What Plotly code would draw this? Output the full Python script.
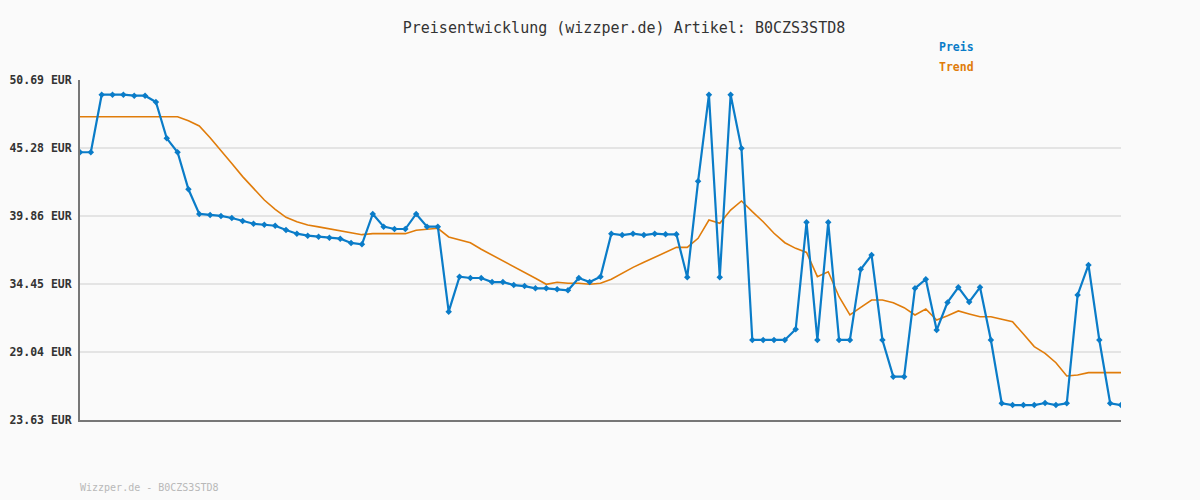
import plotly.graph_objects as go

title_text = "Preisentwicklung (wizzper.de) Artikel: B0CZS3STD8"
footer_text = "Wizzper.de - B0CZS3STD8"

price = [44.94, 44.94, 49.52, 49.52, 49.52, 49.44, 49.44, 48.94, 46.05, 44.94,
         41.99, 40.03, 39.95, 39.87, 39.71, 39.47, 39.25, 39.17, 39.09, 38.75,
         38.46, 38.30, 38.22, 38.14, 38.06, 37.72, 37.61, 40.03, 39.02, 38.83,
         38.83, 40.03, 39.02, 39.02, 32.25, 35.04, 34.93, 34.93, 34.61, 34.61,
         34.37, 34.29, 34.11, 34.11, 34.03, 33.95, 34.93, 34.61, 35.04, 38.46,
         38.35, 38.46, 38.35, 38.46, 38.41, 38.41, 34.99, 42.63, 49.52, 34.99,
         49.52, 45.25, 30.00, 30.00, 30.00, 30.00, 30.85, 39.36, 30.00, 39.36,
         30.00, 30.00, 35.62, 36.76, 30.00, 27.08, 27.08, 34.11, 34.83, 30.79,
         32.99, 34.19, 33.02, 34.19, 30.00, 24.96, 24.82, 24.82, 24.82, 24.98,
         24.82, 24.96, 33.58, 35.97, 30.00, 24.96, 24.82]

trend = [47.77, 47.77, 47.77, 47.77, 47.77, 47.77, 47.77, 47.77, 47.77, 47.77,
         47.45, 47.03, 46.10, 45.12, 44.05, 43.00, 42.05, 41.14, 40.40, 39.76,
         39.40, 39.15, 39.00, 38.84, 38.69, 38.53, 38.38, 38.46, 38.46, 38.46,
         38.46, 38.73, 38.82, 38.89, 38.20, 37.96, 37.74, 37.22, 36.76, 36.31,
         35.89, 35.38, 34.91, 34.43, 34.59, 34.51, 34.51, 34.43, 34.51, 34.83,
         35.31, 35.78, 36.18, 36.58, 37.02, 37.37, 37.37, 38.09, 39.55, 39.29,
         40.34, 41.06, 40.21, 39.41, 38.49, 37.74, 37.29, 36.97, 35.04, 35.43,
         33.44, 31.99, 32.60, 33.18, 33.18, 32.97, 32.57, 31.99, 32.46, 31.59,
         31.93, 32.31, 32.07, 31.85, 31.85, 31.67, 31.45, 30.47, 29.47, 28.94,
         28.19, 27.13, 27.21, 27.40, 27.40, 27.40, 27.40]

y_ticks = [23.63, 29.04, 34.45, 39.86, 45.28, 50.69]
y_ticktext = ["23.63 EUR", "29.04 EUR", "34.45 EUR", "39.86 EUR", "45.28 EUR", "50.69 EUR"]

series_names = ["Preis", "Trend"]

BLUE = "#0a7cc8"
ORANGE = "#e07c0a"
MONO = "DejaVu Sans Mono"

x = list(range(len(price)))

fig = go.Figure()
fig.add_trace(go.Scatter(x=x, y=trend, mode="lines", name=series_names[1],
                         line=dict(color=ORANGE, width=1.6), showlegend=False,
                         hoverinfo="skip"))
fig.add_trace(go.Scatter(x=x, y=price, mode="lines+markers", name=series_names[0],
                         line=dict(color=BLUE, width=2.2),
                         marker=dict(symbol="diamond", size=5, color=BLUE),
                         showlegend=False))

fig.update_layout(
    width=1200, height=500,
    margin=dict(l=80, r=79, t=80, b=80, autoexpand=False),
    paper_bgcolor="#fafafa", plot_bgcolor="#fafafa",
    title=dict(text=title_text, x=624 / 1200, xref="container", xanchor="center",
               y=1 - 28 / 500, yref="container", yanchor="middle",
               font=dict(family=MONO, size=15, color="#333333")),
    xaxis=dict(range=[0, len(price) - 1], showgrid=False, zeroline=False,
               showticklabels=False, ticks="", showline=True, linecolor="#777777",
               linewidth=2, automargin=False),
    yaxis=dict(range=[y_ticks[0], y_ticks[-1]], tickvals=y_ticks, ticktext=y_ticktext,
               showgrid=True, gridcolor="#e4e4e4", gridwidth=2, zeroline=False,
               showline=True, linecolor="#777777", linewidth=2, ticks="",
               ticklabelstandoff=4, automargin=False,
               tickfont=dict(family=MONO, size=11.5, color="#333333", weight="bold")),
    annotations=[
        dict(text=series_names[0], x=(937 - 80) / 1041, y=(420 - 47) / 340,
             xref="paper", yref="paper", xanchor="left", yanchor="middle",
             showarrow=False, font=dict(family=MONO, size=11.5, color=BLUE, weight="bold")),
        dict(text=series_names[1], x=(937 - 80) / 1041, y=(420 - 67) / 340,
             xref="paper", yref="paper", xanchor="left", yanchor="middle",
             showarrow=False, font=dict(family=MONO, size=11.5, color=ORANGE, weight="bold")),
        dict(text=footer_text, x=(78 - 80) / 1041, y=(420 - 487) / 340,
             xref="paper", yref="paper", xanchor="left", yanchor="middle",
             showarrow=False, font=dict(family=MONO, size=10, color="#b8b8b8")),
    ],
)

fig.write_html("out.html", config={"displayModeBar": False},
               post_script="document.body.style.margin='0';"
                           "document.body.style.background='#fafafa';")
